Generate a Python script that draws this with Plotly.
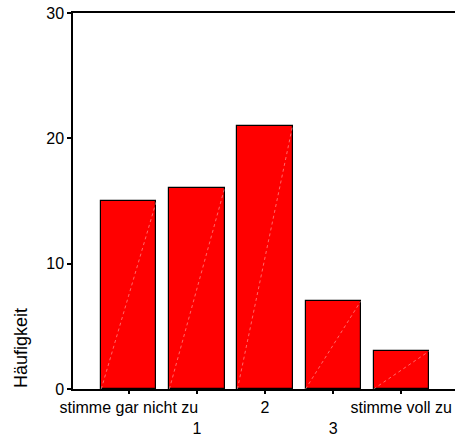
import plotly.graph_objects as go

categories = ["stimme gar nicht zu", "1", "2", "3", "stimme voll zu"]
tick_labels = ["stimme gar nicht zu", "<br>1", "2", "<br>3", "stimme voll zu"]
counts = [15, 16, 21, 7, 3]
y_ticks = [0, 10, 20, 30]
y_title = "Häufigkeit"

bar_width = 0.81
positions = list(range(len(categories)))

fig = go.Figure()
fig.add_trace(go.Bar(
    x=positions, y=counts, width=bar_width,
    marker=dict(color="#ff0000", line=dict(color="#000000", width=1.2)),
    showlegend=False, hoverinfo="skip",
))
# faint diagonal hatch line inside each bar (SPSS style)
for p, v in zip(positions, counts):
    fig.add_trace(go.Scatter(
        x=[p - bar_width / 2, p + bar_width / 2], y=[0, v],
        mode="lines", line=dict(color="rgba(255,190,190,0.7)", width=0.8, dash="dot"),
        showlegend=False, hoverinfo="skip",
    ))

fig.update_layout(
    width=455, height=439,
    margin=dict(l=73, r=0, t=13, b=50),
    paper_bgcolor="white", plot_bgcolor="white",
    font=dict(family="Liberation Sans, Arial, sans-serif", size=16, color="#000000"),
    bargap=0,
    xaxis=dict(
        range=[-0.82, 4.79], tickmode="array", tickvals=positions, ticktext=tick_labels,
        tickangle=0, automargin=False,
        showline=True, linecolor="#000000", linewidth=1.5, mirror=True,
        ticks="outside", ticklen=3, tickwidth=1.5, tickcolor="#000000",
        showgrid=False, zeroline=False, fixedrange=True,
    ),
    yaxis=dict(
        range=[0, 30], tickmode="array", tickvals=y_ticks, automargin=False,
        showline=True, linecolor="#000000", linewidth=1.5,
        ticks="outside", ticklen=4, tickwidth=1.5, tickcolor="#000000",
        showgrid=False, zeroline=False, fixedrange=True,
    ),
    annotations=[dict(
        text=y_title, textangle=-90, xref="paper", yref="paper",
        x=0, y=0, xanchor="center", yanchor="bottom", xshift=-52, yshift=-1,
        showarrow=False, font=dict(size=18),
    )],
)

fig.write_html("out.html", config={"displayModeBar": False},
               post_script="document.body.style.margin='0px';")
